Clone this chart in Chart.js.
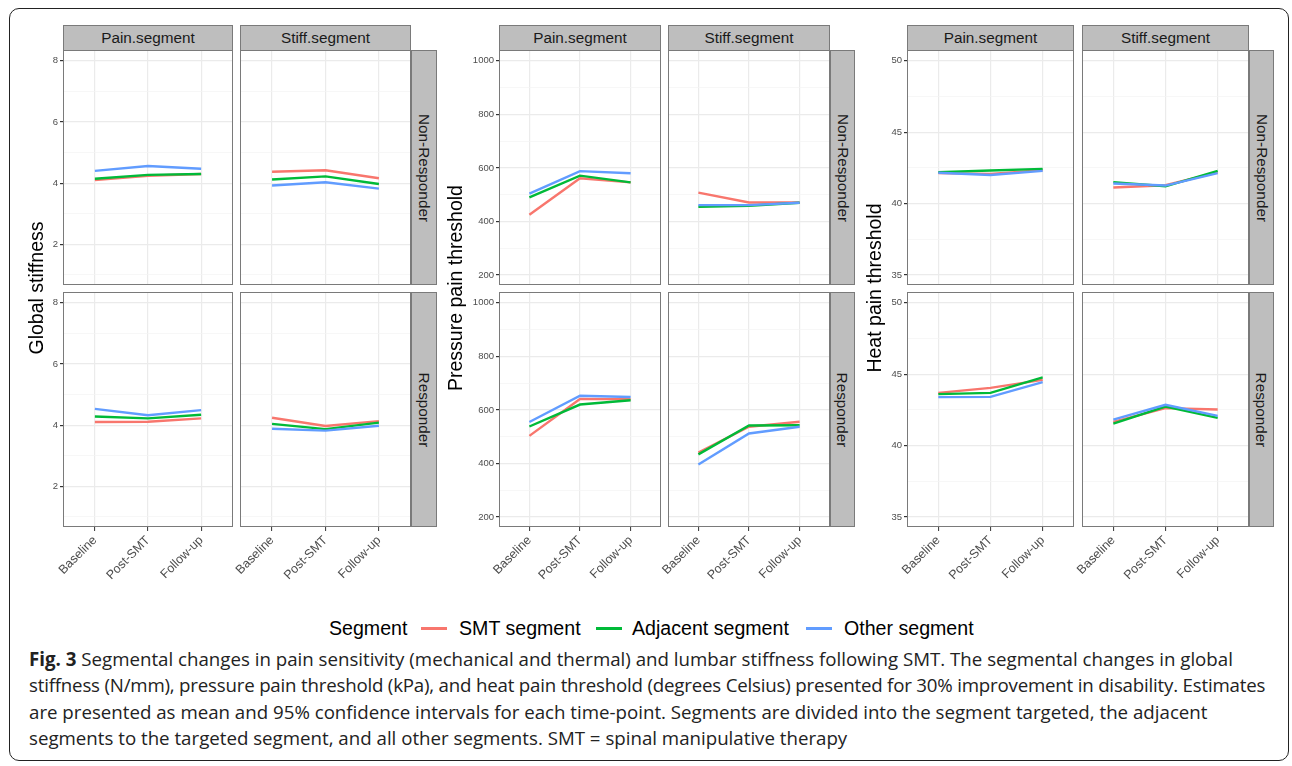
<!DOCTYPE html>
<html>
<head>
<meta charset="utf-8">
<script src="https://cdn.jsdelivr.net/npm/chart.js@4.4.1/dist/chart.umd.min.js"></script>
<style>
  body { margin: 0; background: #fff; }
  #fig { position: relative; width: 1292px; height: 766px; overflow: hidden; font-family: "Liberation Sans", Arial, sans-serif; }
  #frame { position: absolute; left: 9px; top: 8px; width: 1280px; height: 753px; border: 1.3px solid #222; border-radius: 10px; box-sizing: border-box; }
  canvas { position: absolute; }
  .strip { position: absolute; background: #bebebe; border: 1px solid #7a7a7a; box-sizing: border-box; color: #1a1a1a; font-size: 15.3px; display: flex; align-items: center; justify-content: center; }
  .strip span { white-space: nowrap; }
  .strip.right span { transform: rotate(90deg); }
  .ytitle { position: absolute; width: 300px; height: 24px; line-height: 24px; font-size: 19.5px; color: #000; text-align: center; transform: rotate(-90deg); white-space: nowrap; }
  .lg { position: absolute; top: 616px; font-size: 19.6px; line-height: 24px; color: #000; white-space: nowrap; }
  .sw { position: absolute; top: 627px; width: 26px; height: 2.5px; }
  #caption { position: absolute; left: 29px; top: 646px; font-family: "Open Sans", sans-serif; font-size: 18.7px; line-height: 26.3px; color: #222; white-space: nowrap; }
  #caption .tight { letter-spacing: -0.2px; }
</style>
</head>
<body>
<div id="fig">
  <div id="frame"></div>
  <div id="caption"><b>Fig. 3</b> Segmental changes in pain sensitivity (mechanical and thermal) and lumbar stiffness following SMT. The segmental changes in global<br><span class="tight">stiffness (N/mm), pressure pain threshold (kPa), and heat pain threshold (degrees Celsius) presented for 30% improvement in disability. Estimates</span><br>are presented as mean and 95% confidence intervals for each time-point. Segments are divided into the segment targeted, the adjacent<br>segments to the targeted segment, and all other segments. SMT = spinal manipulative therapy</div>
</div>
<script>
// time points and segments
var timepoints = ['Baseline', 'Post-SMT', 'Follow-up'];
var segmentNames = ['SMT segment', 'Adjacent segment', 'Other segment'];
var segmentColors = ['#F8766D', '#00BA38', '#619CFF'];
var colStrips = ['Pain.segment', 'Stiff.segment'];
var rowStrips = ['Non-Responder', 'Responder'];

// Global stiffness, rows = SMT, Adjacent, Other
var stiffNonPain = [[4.10, 4.24, 4.30], [4.14, 4.27, 4.30], [4.40, 4.56, 4.47]];
var stiffNonStiff = [[4.37, 4.42, 4.16], [4.12, 4.22, 3.97], [3.92, 4.03, 3.82]];
var stiffResPain = [[4.10, 4.11, 4.22], [4.28, 4.22, 4.34], [4.53, 4.32, 4.49]];
var stiffResStiff = [[4.24, 3.97, 4.13], [4.04, 3.87, 4.08], [3.88, 3.82, 3.98]];

// Pressure pain threshold
var pptNonPain = [[425, 561, 546], [490, 571, 546], [504, 588, 580]];
var pptNonStiff = [[508, 471, 471], [455, 459, 470], [461, 461, 470]];
var pptResPain = [[503, 641, 640], [538, 620, 636], [555, 653, 648]];
var pptResStiff = [[441, 537, 556], [434, 542, 543], [396, 512, 537]];

// Heat pain threshold
var hptNonPain = [[42.13, 42.07, 42.34], [42.20, 42.32, 42.43], [42.16, 42.00, 42.29]];
var hptNonStiff = [[41.12, 41.28, 42.18], [41.50, 41.21, 42.29], [41.40, 41.26, 42.13]];
var hptResPain = [[43.69, 44.04, 44.60], [43.60, 43.69, 44.77], [43.39, 43.41, 44.44]];
var hptResStiff = [[41.66, 42.62, 42.52], [41.54, 42.73, 41.94], [41.82, 42.85, 42.08]];

// y axes
var stiffTicks = [2, 4, 6, 8];
var stiffMinor = [1, 3, 5, 7];
var pptTicks = [200, 400, 600, 800, 1000];
var pptMinor = [300, 500, 700, 900];
var hptTicks = [35, 40, 45, 50];
var hptMinor = [37.5, 42.5, 47.5];

Chart.defaults.font.family = '"Liberation Sans", Arial, sans-serif';

var groups = [
  { title: 'Global stiffness', titleX: 36, cols: [[63, 170], [240, 171]], stripW: 26,
    yMin: 0.67, yMax: 8.35, ticks: stiffTicks, minor: stiffMinor,
    data: [[stiffNonPain, stiffNonStiff], [stiffResPain, stiffResStiff]] },
  { title: 'Pressure pain threshold', titleX: 455, cols: [[499, 162], [668, 162]], stripW: 25,
    yMin: 163, yMax: 1040, ticks: pptTicks, minor: pptMinor,
    data: [[pptNonPain, pptNonStiff], [pptResPain, pptResStiff]] },
  { title: 'Heat pain threshold', titleX: 874, cols: [[907, 167], [1082, 167]], stripW: 25,
    yMin: 34.3, yMax: 50.75, ticks: hptTicks, minor: hptMinor,
    data: [[hptNonPain, hptNonStiff], [hptResPain, hptResStiff]] }
];
var rows = [[50, 235], [292, 235]];
var fig = document.getElementById('fig');

var framePlugin = {
  id: 'panelFrame',
  afterDraw: function (chart) {
    var a = chart.chartArea, c = chart.ctx;
    c.save();
    c.strokeStyle = '#7a7a7a';
    c.lineWidth = 1;
    c.strokeRect(a.left + 0.5, a.top + 0.5, a.right - a.left - 1, a.bottom - a.top - 1);
    c.restore();
  }
};

function addDiv(cls, css, html) {
  var d = document.createElement('div');
  d.className = cls;
  d.style.cssText = css;
  d.innerHTML = html;
  fig.appendChild(d);
  return d;
}

function makePanel(g, r, c) {
  var yW = 34, xH = r === 1 ? 70 : 0;
  var left = g.cols[c][0], w = g.cols[c][1];
  var top = rows[r][0], h = rows[r][1];
  var showY = c === 0, showX = r === 1;
  var isMajor = function (v) { return g.ticks.indexOf(v) >= 0; };
  var cv = document.createElement('canvas');
  cv.width = w + yW; cv.height = h + xH;
  cv.style.left = (left - yW) + 'px';
  cv.style.top = top + 'px';
  cv.style.width = (w + yW) + 'px';
  cv.style.height = (h + xH) + 'px';
  fig.appendChild(cv);

  var vals = g.data[r][c];
  new Chart(cv, {
    type: 'line',
    data: {
      datasets: segmentNames.map(function (name, i) {
        return {
          label: name,
          data: vals[i].map(function (v, j) { return { x: j, y: v }; }),
          borderColor: segmentColors[i],
          backgroundColor: segmentColors[i],
          borderWidth: 2.4,
          pointRadius: 0,
          tension: 0,
          order: 2 - i
        };
      })
    },
    options: {
      responsive: false,
      animation: false,
      events: [],
      layout: { padding: 0 },
      plugins: { legend: { display: false }, tooltip: { enabled: false } },
      scales: {
        x: {
          type: 'linear', min: -0.6, max: 2.6,
          afterBuildTicks: function (s) { s.ticks = [0, 1, 2].map(function (v) { return { value: v }; }); },
          afterFit: function (s) { s.height = xH; s.paddingLeft = 0; s.paddingRight = 0; },
          border: { display: false },
          grid: { color: '#ebebeb', lineWidth: 1.2, drawTicks: showX, tickLength: 4, tickColor: '#333', tickWidth: 1 },
          ticks: {
            display: showX, autoSkip: false, minRotation: 45, maxRotation: 45, padding: 2,
            color: '#4d4d4d', font: { size: 12.5 },
            callback: function (v) { return timepoints[v]; }
          }
        },
        y: {
          min: g.yMin, max: g.yMax,
          afterBuildTicks: function (s) {
            s.ticks = g.minor.concat(g.ticks).sort(function (a, b) { return a - b; })
              .map(function (v) { return { value: v }; });
          },
          afterFit: function (s) { s.width = yW; s.paddingTop = 0; s.paddingBottom = 0; },
          border: { display: false },
          grid: {
            color: function (ctx) { return ctx.tick && isMajor(ctx.tick.value) ? '#ebebeb' : '#f3f3f3'; },
            lineWidth: function (ctx) { return ctx.tick && isMajor(ctx.tick.value) ? 1.2 : 0.7; },
            drawTicks: showY, tickLength: 3,
            tickColor: function (ctx) { return ctx.tick && isMajor(ctx.tick.value) ? '#333' : 'rgba(0,0,0,0)'; }
          },
          ticks: {
            display: showY, padding: 2, color: '#4d4d4d', font: { size: 9.5 },
            callback: function (v) { return isMajor(v) ? String(v) : ''; }
          }
        }
      }
    },
    plugins: [framePlugin]
  });
}

groups.forEach(function (g) {
  for (var r = 0; r < 2; r++) {
    for (var c = 0; c < 2; c++) makePanel(g, r, c);
  }
  // column strips
  g.cols.forEach(function (col, c) {
    addDiv('strip', 'left:' + col[0] + 'px;top:25px;width:' + col[1] + 'px;height:26px;', '<span>' + colStrips[c] + '</span>');
  });
  // row strips
  var rx = g.cols[1][0] + g.cols[1][1];
  rows.forEach(function (row, r) {
    addDiv('strip right', 'left:' + rx + 'px;top:' + row[0] + 'px;width:' + g.stripW + 'px;height:' + row[1] + 'px;', '<span>' + rowStrips[r] + '</span>');
  });
  addDiv('ytitle', 'left:' + (g.titleX - 150) + 'px;top:' + (288 - 12) + 'px;', g.title);
});

// legend
addDiv('lg', 'left:329px;', 'Segment');
var legendX = [[421, 459], [596, 632], [806, 844]];
segmentNames.forEach(function (name, i) {
  addDiv('sw', 'left:' + legendX[i][0] + 'px;background:' + segmentColors[i] + ';', '');
  addDiv('lg', 'left:' + legendX[i][1] + 'px;', name);
});
</script>
</body>
</html>
